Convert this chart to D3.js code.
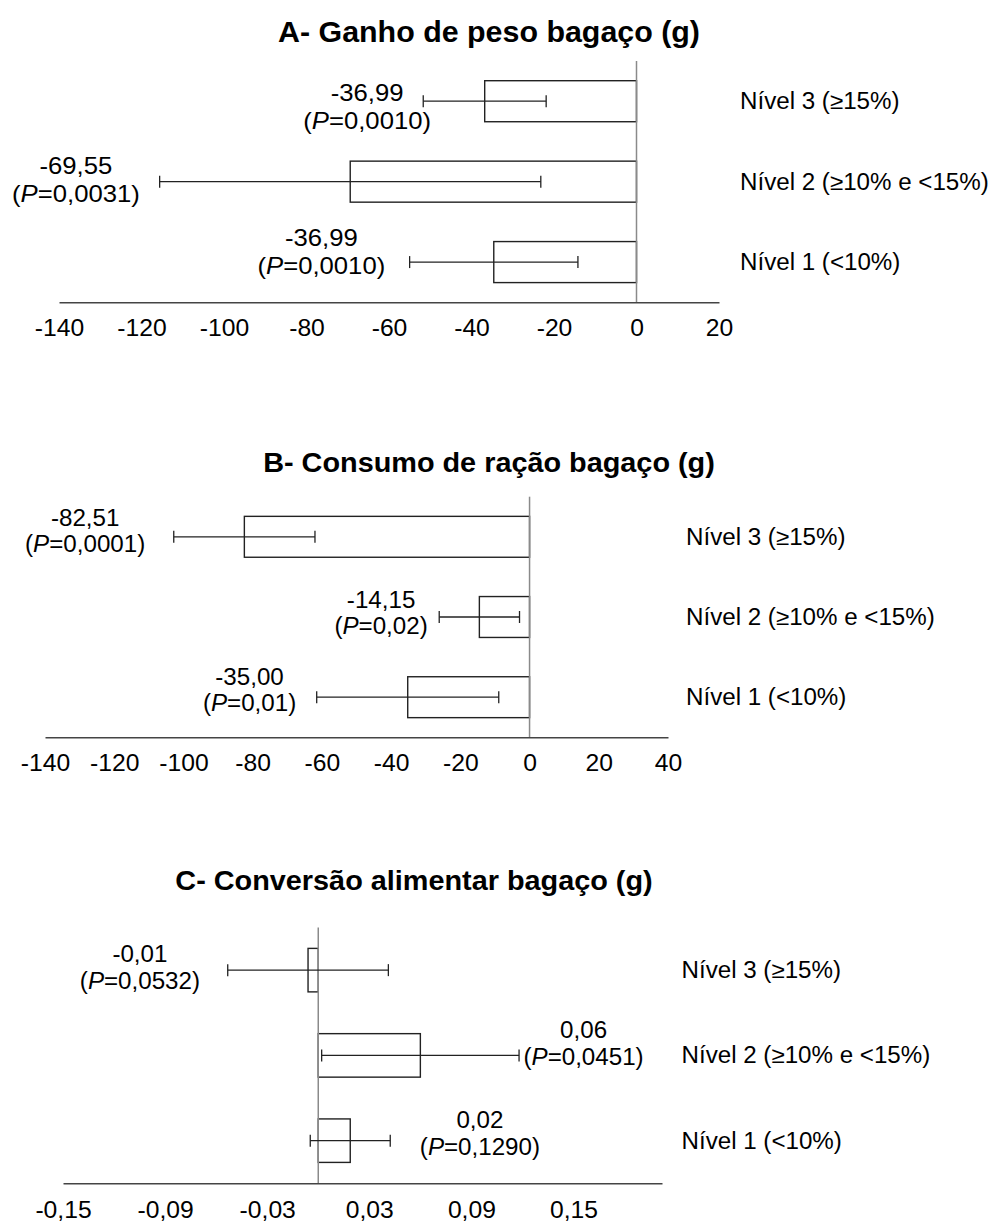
<!DOCTYPE html>
<html>
<head>
<meta charset="utf-8">
<script src="https://cdn.jsdelivr.net/npm/d3@7"></script>
<style>
  html, body { margin: 0; padding: 0; background: #ffffff; }
  svg { display: block; font-family: "Liberation Sans", Arial, sans-serif; }
</style>
</head>
<body>
<script>
// ---------------- DATA ----------------
const levels = ["Nível 3 (≥15%)", "Nível 2 (≥10% e <15%)", "Nível 1 (<10%)"];

// Panel A - Ganho de peso
const titleA = "A- Ganho de peso bagaço (g)";
const valuesA = [-36.8, -69.4, -34.6];
const errorsA = [14.9, 46.2, 20.4];
const valueLabelsA = ["-36,99", "-69,55", "-36,99"];
const pLabelsA = ["0,0010", "0,0031", "0,0010"];
const ticksA = [-140, -120, -100, -80, -60, -40, -20, 0, 20];

// Panel B - Consumo de ração
const titleB = "B- Consumo de ração bagaço (g)";
const valuesB = [-82.4, -14.5, -35.2];
const errorsB = [20.4, 11.6, 26.3];
const valueLabelsB = ["-82,51", "-14,15", "-35,00"];
const pLabelsB = ["0,0001", "0,02", "0,01"];
const ticksB = [-140, -120, -100, -80, -60, -40, -20, 0, 20, 40];

// Panel C - Conversão alimentar
const titleC = "C- Conversão alimentar bagaço (g)";
const valuesC = [-0.006, 0.060, 0.0188];
const errorsC = [0.0472, 0.058, 0.0235];
const valueLabelsC = ["-0,01", "0,06", "0,02"];
const pLabelsC = ["0,0532", "0,0451", "0,1290"];
const ticksC = [-0.15, -0.09, -0.03, 0.03, 0.09, 0.15];

// ---------------- LAYOUT (positions / styles) ----------------
const locale = d3.formatLocale({decimal: ",", thousands: ".", grouping: [3], currency: ["", ""], minus: "-"});

const panels = [
  {
    title: titleA, values: valuesA, errors: errorsA, vlabels: valueLabelsA, plabels: pLabelsA, ticks: ticksA,
    fmt: locale.format("d"),
    domain: [-140, 20], xRange: [59, 719], yRange: [61, 302.3],
    titleX: 489, titleY: 31, titleSize: 29.5,
    levelX: 740,
    labelPos: [[-65.3, -8], [-135.9, -16], [-76.4, -24.5]], lineGap: 29,
    valueSize: 24, valueSx: 1.07,
    tickOffset: 26
  },
  {
    title: titleB, values: valuesB, errors: errorsB, vlabels: valueLabelsB, plabels: pLabelsB, ticks: ticksB,
    fmt: locale.format("d"),
    domain: [-140, 40], xRange: [45, 668], yRange: [496.7, 737.3],
    titleX: 489, titleY: 462, titleSize: 28,
    levelX: 686,
    labelPos: [[-128.4, -18.4], [-42.9, -17.5], [-80.9, -20.6]], lineGap: 27,
    valueSize: 23, valueSx: 1.05,
    tickOffset: 26
  },
  {
    title: titleC, values: valuesC, errors: errorsC, vlabels: valueLabelsC, plabels: pLabelsC, ticks: ticksC,
    fmt: locale.format(".2f"),
    domain: [-0.15, 0.202], xRange: [63, 662], yRange: [927.5, 1183.3],
    titleX: 414, titleY: 880, titleSize: 28,
    levelX: 681.5,
    labelPos: [[-0.1048, -16], [0.1559, -25], [0.095, -21]], lineGap: 28,
    valueSize: 23, valueSx: 1.05,
    tickOffset: 26.3
  }
];

const TEXT_SX = 1.05;
const INK = "#222";

// ---------------- DRAW ----------------
const svg = d3.select("body").append("svg")
  .attr("width", 1006).attr("height", 1223);

function stretchedText(parent, x, y, sx) {
  return parent.append("g")
    .attr("transform", `translate(${x},${y}) scale(${sx},1)`)
    .append("text").attr("x", 0).attr("y", 0);
}

panels.forEach(p => {
  const g = svg.append("g");
  const x = d3.scaleLinear().domain(p.domain).range(p.xRange);
  const y = d3.scaleBand().domain(levels).range(p.yRange).padding(0);
  const step = y.step();
  const bh = step * 0.51;
  const rows = levels.map((lv, i) => ({
    level: lv, value: p.values[i], err: p.errors[i],
    vlabel: p.vlabels[i], plabel: p.plabels[i], pos: p.labelPos[i]
  }));

  // Title
  stretchedText(g, p.titleX, p.titleY + p.titleSize * 0.36, 1.03)
    .attr("text-anchor", "middle")
    .attr("font-size", p.titleSize)
    .attr("font-weight", "bold")
    .attr("fill", "#000")
    .text(p.title);

  // Bars
  g.selectAll("rect.bar").data(rows).join("rect")
    .attr("class", "bar")
    .attr("x", d => x(Math.min(0, d.value)))
    .attr("width", d => Math.abs(x(d.value) - x(0)))
    .attr("y", d => y(d.level) + (step - bh) / 2)
    .attr("height", bh)
    .attr("fill", "#fff")
    .attr("stroke", INK)
    .attr("stroke-width", 1.4);

  // Zero line
  g.append("line")
    .attr("x1", x(0)).attr("x2", x(0))
    .attr("y1", p.yRange[0]).attr("y2", p.yRange[1])
    .attr("stroke", "#8a8a8a").attr("stroke-width", 1.5);

  // Error bars
  const eb = g.selectAll("g.err").data(rows).join("g").attr("class", "err")
    .attr("stroke", INK).attr("stroke-width", 1.3);
  eb.append("line")
    .attr("x1", d => x(d.value - d.err)).attr("x2", d => x(d.value + d.err))
    .attr("y1", d => y(d.level) + step / 2).attr("y2", d => y(d.level) + step / 2);
  eb.append("line")
    .attr("x1", d => x(d.value - d.err)).attr("x2", d => x(d.value - d.err))
    .attr("y1", d => y(d.level) + step / 2 - 6).attr("y2", d => y(d.level) + step / 2 + 6);
  eb.append("line")
    .attr("x1", d => x(d.value + d.err)).attr("x2", d => x(d.value + d.err))
    .attr("y1", d => y(d.level) + step / 2 - 6).attr("y2", d => y(d.level) + step / 2 + 6);

  // Axis
  const axis = d3.axisBottom(x)
    .tickValues(p.ticks)
    .tickSize(0).tickSizeOuter(0)
    .tickFormat(p.fmt);
  const ag = g.append("g")
    .attr("transform", `translate(0,${p.yRange[1]})`)
    .call(axis);
  ag.select(".domain").attr("stroke", "#444").attr("stroke-width", 1.6);
  ag.selectAll(".tick text")
    .attr("y", p.tickOffset + 8)
    .attr("dy", null)
    .attr("font-size", 23.5)
    .attr("font-family", "'Liberation Sans', Arial, sans-serif")
    .attr("fill", "#000")
    .attr("transform", `scale(${TEXT_SX},1)`);

  // Value + P labels
  rows.forEach(d => {
    const cx = x(d.pos[0]);
    const cy = y(d.level) + step / 2 + d.pos[1];
    stretchedText(g, cx, cy + 8, p.valueSx)
      .attr("text-anchor", "middle")
      .attr("font-size", p.valueSize)
      .attr("fill", "#000")
      .text(d.vlabel);
    const t2 = stretchedText(g, cx, cy + p.lineGap + 7, p.valueSx)
      .attr("text-anchor", "middle")
      .attr("font-size", p.valueSize)
      .attr("fill", "#000");
    t2.append("tspan").text("(");
    t2.append("tspan").attr("font-style", "italic").text("P");
    t2.append("tspan").text("=" + d.plabel + ")");
  });

  // Level labels (category names on the right)
  rows.forEach(d => {
    stretchedText(g, p.levelX, y(d.level) + step / 2 + 8, TEXT_SX)
      .attr("text-anchor", "start")
      .attr("font-size", 23)
      .attr("fill", "#000")
      .text(d.level);
  });
});
</script>
</body>
</html>
